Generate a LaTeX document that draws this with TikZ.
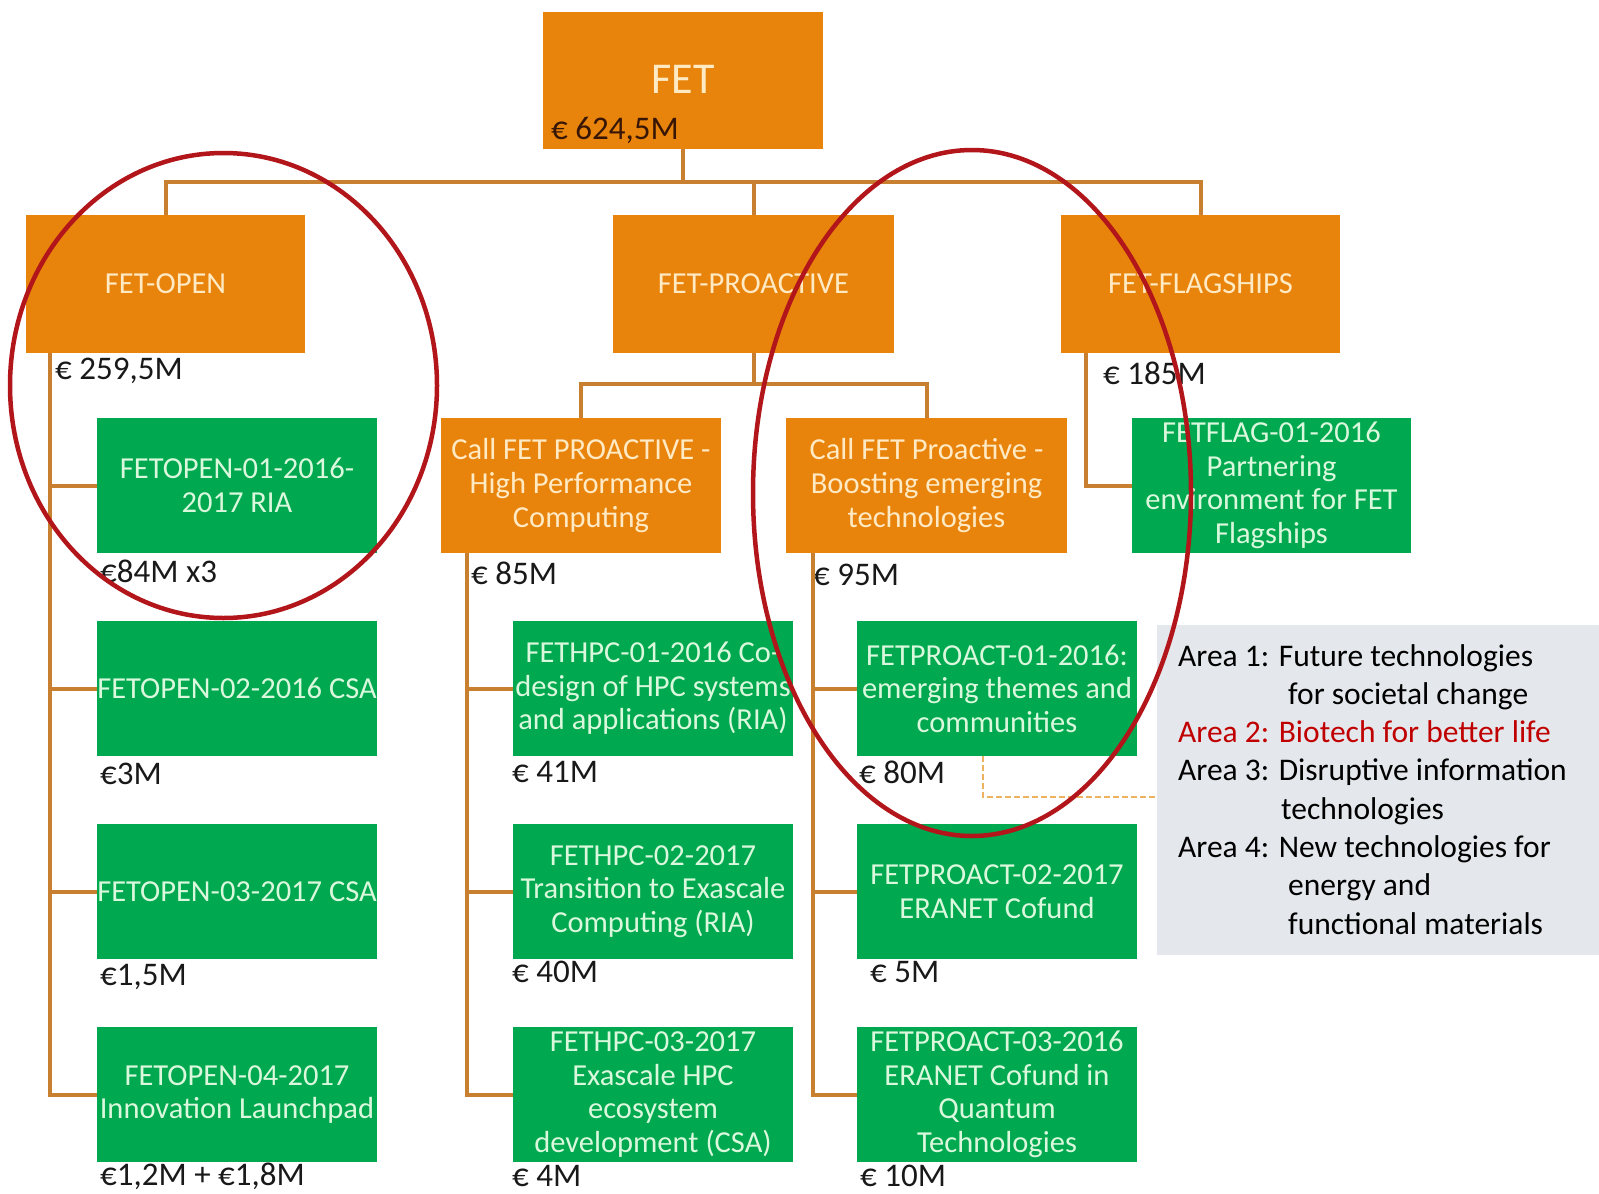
\documentclass[tikz,border=0pt]{standalone}
\usepackage{fontspec}
\setmainfont{Carlito}
\definecolor{orangebox}{RGB}{232,131,12}
\definecolor{greenbox}{RGB}{0,168,80}
\definecolor{otxt}{RGB}{255,234,196}
\definecolor{gtxt}{RGB}{218,248,220}
\definecolor{conn}{RGB}{200,128,48}
\definecolor{ring}{RGB}{178,22,26}
\definecolor{leggrey}{RGB}{228,232,236}
\definecolor{areared}{RGB}{192,0,0}
\definecolor{dashc}{RGB}{236,178,96}
\definecolor{amtc}{RGB}{25,25,25}
\begin{document}
\begin{tikzpicture}[x=1pt,y=-1pt,
  obox/.style={rectangle, fill=orangebox, draw=none, inner sep=0pt, minimum width=280pt, minimum height=137pt, text=otxt, align=center, font=\fontsize{30.5}{34}\selectfont},
  gbox/.style={rectangle, fill=greenbox, draw=none, inner sep=0pt, minimum width=280pt, minimum height=135pt, text=gtxt, align=center, font=\fontsize{30.5}{33.5}\selectfont},
  amount/.style={anchor=west, inner sep=0pt, text=amtc, font=\fontsize{33}{38}\selectfont},
  legline/.style={anchor=base west, inner sep=0pt, text=black, font=\fontsize{31.5}{38}\selectfont},
  con/.style={draw=conn, line width=4pt},
  dashcon/.style={draw=dashc, line width=2pt, dash pattern=on 6pt off 3pt},
  redring/.style={draw=ring, line width=4.5pt}]
\useasboundingbox (0,0) rectangle (1599,1194);
\fill[white] (0,0) rectangle (1599,1194);

% legend
\node[rectangle, fill=leggrey, draw=none, inner sep=0pt, minimum width=442pt, minimum height=330pt] (legbox) at (1378,790) {};
\node[legline] (lg1) at (1178,666) {Area 1: Future technologies};
\node[legline] (lg2) at (1288,704.3) {for societal change};
\node[legline, text=areared] (lg3) at (1178,742.6) {Area 2: Biotech for better life};
\node[legline] (lg4) at (1178,780.9) {Area 3: Disruptive information};
\node[legline] (lg5) at (1281,819.2) {technologies};
\node[legline] (lg6) at (1178,857.5) {Area 4: New technologies for};
\node[legline] (lg7) at (1288,895.8) {energy and};
\node[legline] (lg8) at (1288,934.1) {functional materials};

% top
\node[obox, minimum width=280pt, minimum height=137pt] (fet) at (683,80.5) {};
\node[inner sep=0pt, text=otxt, font=\fontsize{44}{50}\selectfont] (fettitle) at (683,79) {FET};
\node[amount, text={rgb,255:red,55;green,22;blue,5}] (fetamt) at (551,130) {€ 624,5M};

% level 1
\node[obox, minimum width=279pt, minimum height=138pt] (open) at (165.5,284) {FET-OPEN};
\node[obox, minimum width=281pt, minimum height=138pt] (pro) at (753.5,284) {FET-PROACTIVE};
\node[obox, minimum width=279pt, minimum height=138pt] (flag) at (1200.5,284) {FET-FLAGSHIPS};

% calls
\node[obox, minimum height=135pt] (hpc) at (581,485.5) {Call FET PROACTIVE -\\High Performance\\Computing};
\node[obox, minimum width=281pt, minimum height=135pt] (boost) at (926.5,485.5) {Call FET Proactive -\\Boosting emerging\\technologies};

% green boxes
\node[gbox] (a1) at (237,485.5) {FETOPEN-01-2016-\\2017 RIA};
\node[gbox] (a2) at (237,688.5) {FETOPEN-02-2016 CSA};
\node[gbox] (a3) at (237,891.5) {FETOPEN-03-2017 CSA};
\node[gbox] (a4) at (237,1094.5) {FETOPEN-04-2017\\Innovation Launchpad};
\node[gbox] (b1) at (653,688.5) {FETHPC-01-2016 Co-\\design of HPC systems\\and applications (RIA)};
\node[gbox] (b2) at (653,891.5) {FETHPC-02-2017\\Transition to Exascale\\Computing (RIA)};
\node[gbox] (b3) at (653,1094.5) {FETHPC-03-2017\\Exascale HPC\\ecosystem\\development (CSA)};
\node[gbox] (c1) at (997,688.5) {FETPROACT-01-2016:\\emerging themes and\\communities};
\node[gbox] (c2) at (997,891.5) {FETPROACT-02-2017\\ERANET Cofund};
\node[gbox] (c3) at (997,1094.5) {FETPROACT-03-2016\\ERANET Cofund in\\Quantum\\Technologies};
\node[gbox, minimum width=279pt] (d1) at (1271.5,485.5) {FETFLAG-01-2016\\Partnering\\environment for FET\\Flagships};

% amounts
\node[amount] (amtopen) at (55,371) {€ 259,5M};
\node[amount] (amtflag) at (1103,373) {€ 185M};
\node[amount] (amthpc) at (471,573) {€ 85M};
\node[amount] (amtboost) at (813,575) {€ 95M};
\node[amount] (amta1) at (100,571) {€84M x3};
\node[amount] (amta2) at (100,774) {€3M};
\node[amount] (amta3) at (100,977) {€1,5M};
\node[amount] (amta4) at (100,1176) {€1,2M + €1,8M};
\node[amount] (amtb1) at (512,772) {€ 41M};
\node[amount] (amtb2) at (512,972) {€ 40M};
\node[amount] (amtb3) at (512,1176) {€ 4M};
\node[amount] (amtc1) at (859,772) {€ 80M};
\node[amount] (amtc2) at (870,972) {€ 5M};
\node[amount] (amtc3) at (860,1176) {€ 10M};

% connectors
\coordinate (bus) at (0,182);
\coordinate (bus2) at (0,384);
\coordinate (ta) at (50,0);
\coordinate (tb) at (467,0);
\coordinate (tc) at (813,0);
\coordinate (td) at (1086,0);
\coordinate (dk) at (983,797);

\draw[con] (fet.south) -- (fet.south |- bus);
\draw[con] (open.north) |- (flag.north |- bus) -- (flag.north);
\draw[con] (pro.north) -- (pro.north |- bus);
\draw[con] (pro.south) -- (pro.south |- bus2);
\draw[con] (hpc.north) |- (boost.north |- bus2) -- (boost.north);

\draw[con] (open.south -| ta) |- (a4.west);
\draw[con] (a1.west -| ta) -- (a1.west);
\draw[con] (a2.west -| ta) -- (a2.west);
\draw[con] (a3.west -| ta) -- (a3.west);

\draw[con] (hpc.south -| tb) |- (b3.west);
\draw[con] (b1.west -| tb) -- (b1.west);
\draw[con] (b2.west -| tb) -- (b2.west);

\draw[con] (boost.south -| tc) |- (c3.west);
\draw[con] (c1.west -| tc) -- (c1.west);
\draw[con] (c2.west -| tc) -- (c2.west);

\draw[con] (flag.south -| td) |- (d1.west);

\draw[dashcon] (c1.south -| dk) |- (legbox.west |- dk);

% red rings
\draw[redring] (223.5,385.5) ellipse [x radius=213.5pt, y radius=232.5pt];
\draw[redring] (972,493) ellipse [x radius=219pt, y radius=343pt];
\end{tikzpicture}
\end{document}
